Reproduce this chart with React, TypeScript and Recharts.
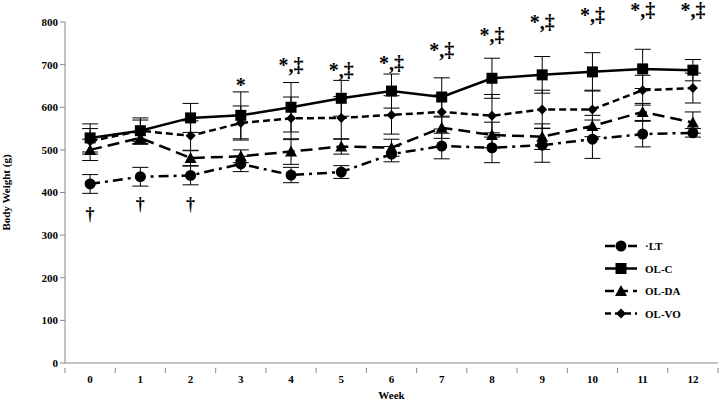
import React from 'react';
import { LineChart, Line, XAxis, YAxis, ErrorBar, LabelList } from 'recharts';

const weeks = [0, 1, 2, 3, 4, 5, 6, 7, 8, 9, 10, 11, 12];
const ltValues = [420, 437, 440, 467, 441, 448, 490, 509, 505, 511, 525, 537, 540];
const ltErr = [22, 22, 22, 18, 18, 15, 18, 30, 35, 40, 45, 30, 10];
const ocValues = [528, 545, 575, 581, 600, 621, 638, 624, 668, 676, 683, 690, 687];
const ocErr = [33, 30, 34, 55, 58, 42, 40, 45, 47, 43, 45, 46, 25];
const daValues = [500, 528, 481, 485, 496, 508, 505, 552, 535, 531, 556, 589, 564];
const daErr = [25, 15, 18, 15, 30, 18, 20, 25, 30, 30, 25, 20, 25];
const voValues = [520, 545, 533, 563, 574, 575, 582, 589, 580, 595, 595, 640, 645];
const voErr = [30, 25, 35, 40, 50, 50, 45, 40, 50, 45, 45, 35, 35];
const sigText = ['', '', '', '*', '*,‡', '*,‡', '*,‡', '*,‡', '*,‡', '*,‡', '*,‡', '*,‡', '*,‡'];
const sigPos = [null, null, null, 652, 699, 687, 704, 734, 769, 800, 816, 828, 828];
const daggerText = ['†', '†', '†', '', '', '', '', '', '', '', '', '', ''];
const daggerPos = [352, 375, 375, null, null, null, null, null, null, null, null, null, null];

const data = weeks.map((w, i) => ({
  week: w,
  LT: ltValues[i], LTerr: ltErr[i],
  OC: ocValues[i], OCerr: ocErr[i],
  DA: daValues[i], DAerr: daErr[i],
  VO: voValues[i], VOerr: voErr[i],
  sig: sigPos[i], sigText: sigText[i],
  dag: daggerPos[i], dagText: daggerText[i],
}));

const FONT = '"Liberation Serif", "Times New Roman", serif';

const Square = (p: any) => (
  <rect key={`sq-${p.index}`} x={p.cx - 5.5} y={p.cy - 5.5} width={11} height={11} fill="#000" />
);
const Triangle = (p: any) => (
  <path key={`tr-${p.index}`} d={`M${p.cx},${p.cy - 6} L${p.cx + 6},${p.cy + 5} L${p.cx - 6},${p.cy + 5} Z`} fill="#000" />
);
const Diamond = (p: any) => (
  <path key={`di-${p.index}`} d={`M${p.cx},${p.cy - 5} L${p.cx + 5},${p.cy} L${p.cx},${p.cy + 5} L${p.cx - 5},${p.cy} Z`} fill="#000" />
);
const Circle = (p: any) => <circle key={`ci-${p.index}`} cx={p.cx} cy={p.cy} r={5.5} fill="#000" />;

const xTick = (props: any) => {
  const { x, y, payload } = props;
  if (Number.isInteger(payload.value)) {
    return (
      <text x={x} y={y + 12} textAnchor="middle" fontFamily={FONT} fontWeight="bold" fontSize={11} fill="#000">
        {payload.value}
      </text>
    );
  }
  return <line x1={x} x2={x} y1={y - 3} y2={y + 2} stroke="#888" />;
};

const legendItems = [
  { label: '·LT', dash: '10 5 3 5', Marker: Circle },
  { label: 'OL-C', dash: undefined, Marker: Square },
  { label: 'OL-DA', dash: '9 5', Marker: Triangle },
  { label: 'OL-VO', dash: '6 4', Marker: Diamond },
];

const LegendBox = () => (
  <svg width={100} height={90} style={{ position: 'absolute', left: 605, top: 238 }}>
    {legendItems.map((it, i) => {
      const y = 8 + i * 22.5;
      return (
        <g key={it.label}>
          <line x1={0} x2={32} y1={y} y2={y} stroke="#000" strokeWidth={2.5} strokeDasharray={it.dash} />
          <it.Marker cx={16} cy={y} index={i} />
          <text x={40} y={y + 4} fontFamily={FONT} fontWeight="bold" fontSize={11} fill="#000">{it.label}</text>
        </g>
      );
    })}
  </svg>
);

const sigLabel = (props: any) => {
  const { x, y, index } = props;
  const t = sigText[index];
  if (!t) return null;
  return (
    <text x={x} y={y + 7} textAnchor="middle" fontFamily={FONT} fontWeight="bold" fontSize={20} fill="#000">{t}</text>
  );
};

const dagLabel = (props: any) => {
  const { x, y, index } = props;
  const t = daggerText[index];
  if (!t) return null;
  return (
    <text x={x} y={y + 7} textAnchor="middle" fontFamily={FONT} fontWeight="bold" fontSize={18} fill="#000">{t}</text>
  );
};

const App: React.FC = () => {
  return (
    <div style={{ position: 'fixed', left: 0, top: 0, width: 720, height: 401, background: '#fff' }}>
      <LineChart width={720} height={401} data={data} margin={{ top: 22, right: 2, bottom: 0, left: 0 }}>
        <XAxis
          dataKey="week"
          type="number"
          domain={[-0.5, 12.5]}
          ticks={weeks.flatMap((w) => [w - 0.5, w]).concat([12.5])}
          interval={0}
          tick={xTick}
          tickLine={false}
          axisLine={{ stroke: '#888' }}
          height={38}
          label={{ value: 'Week', position: 'insideBottom', offset: 2, fontFamily: FONT, fontWeight: 'bold', fontSize: 11, fill: '#000' }}
        />
        <YAxis
          domain={[0, 800]}
          ticks={[0, 100, 200, 300, 400, 500, 600, 700, 800]}
          allowDataOverflow
          width={65}
          tickSize={5}
          tickLine={{ stroke: '#888' }}
          axisLine={{ stroke: '#888' }}
          tick={{ fontFamily: FONT, fontWeight: 'bold', fontSize: 11, fill: '#000' }}
          label={{ value: 'Body Weight (g)', angle: -90, position: 'insideLeft', offset: 6, style: { textAnchor: 'middle' }, fontFamily: FONT, fontWeight: 'bold', fontSize: 11, fill: '#000' }}
        />
        <Line dataKey="LT" stroke="#000" strokeWidth={2.5} strokeDasharray="10 5 3 5" dot={Circle} isAnimationActive={false}>
          <ErrorBar dataKey="LTerr" width={8} stroke="#000" strokeWidth={1} />
        </Line>
        <Line dataKey="OC" stroke="#000" strokeWidth={2.5} dot={Square} isAnimationActive={false}>
          <ErrorBar dataKey="OCerr" width={8} stroke="#000" strokeWidth={1} />
        </Line>
        <Line dataKey="DA" stroke="#000" strokeWidth={2.5} strokeDasharray="12 6" dot={Triangle} isAnimationActive={false}>
          <ErrorBar dataKey="DAerr" width={8} stroke="#000" strokeWidth={1} />
        </Line>
        <Line dataKey="VO" stroke="#000" strokeWidth={2.5} strokeDasharray="7 4" dot={Diamond} isAnimationActive={false}>
          <ErrorBar dataKey="VOerr" width={8} stroke="#000" strokeWidth={1} />
        </Line>
        <Line dataKey="sig" stroke="none" dot={false} activeDot={false} isAnimationActive={false}>
          <LabelList dataKey="sigText" content={sigLabel} />
        </Line>
        <Line dataKey="dag" stroke="none" dot={false} activeDot={false} isAnimationActive={false}>
          <LabelList dataKey="dagText" content={dagLabel} />
        </Line>
      </LineChart>
      <LegendBox />
    </div>
  );
};

export default App;
